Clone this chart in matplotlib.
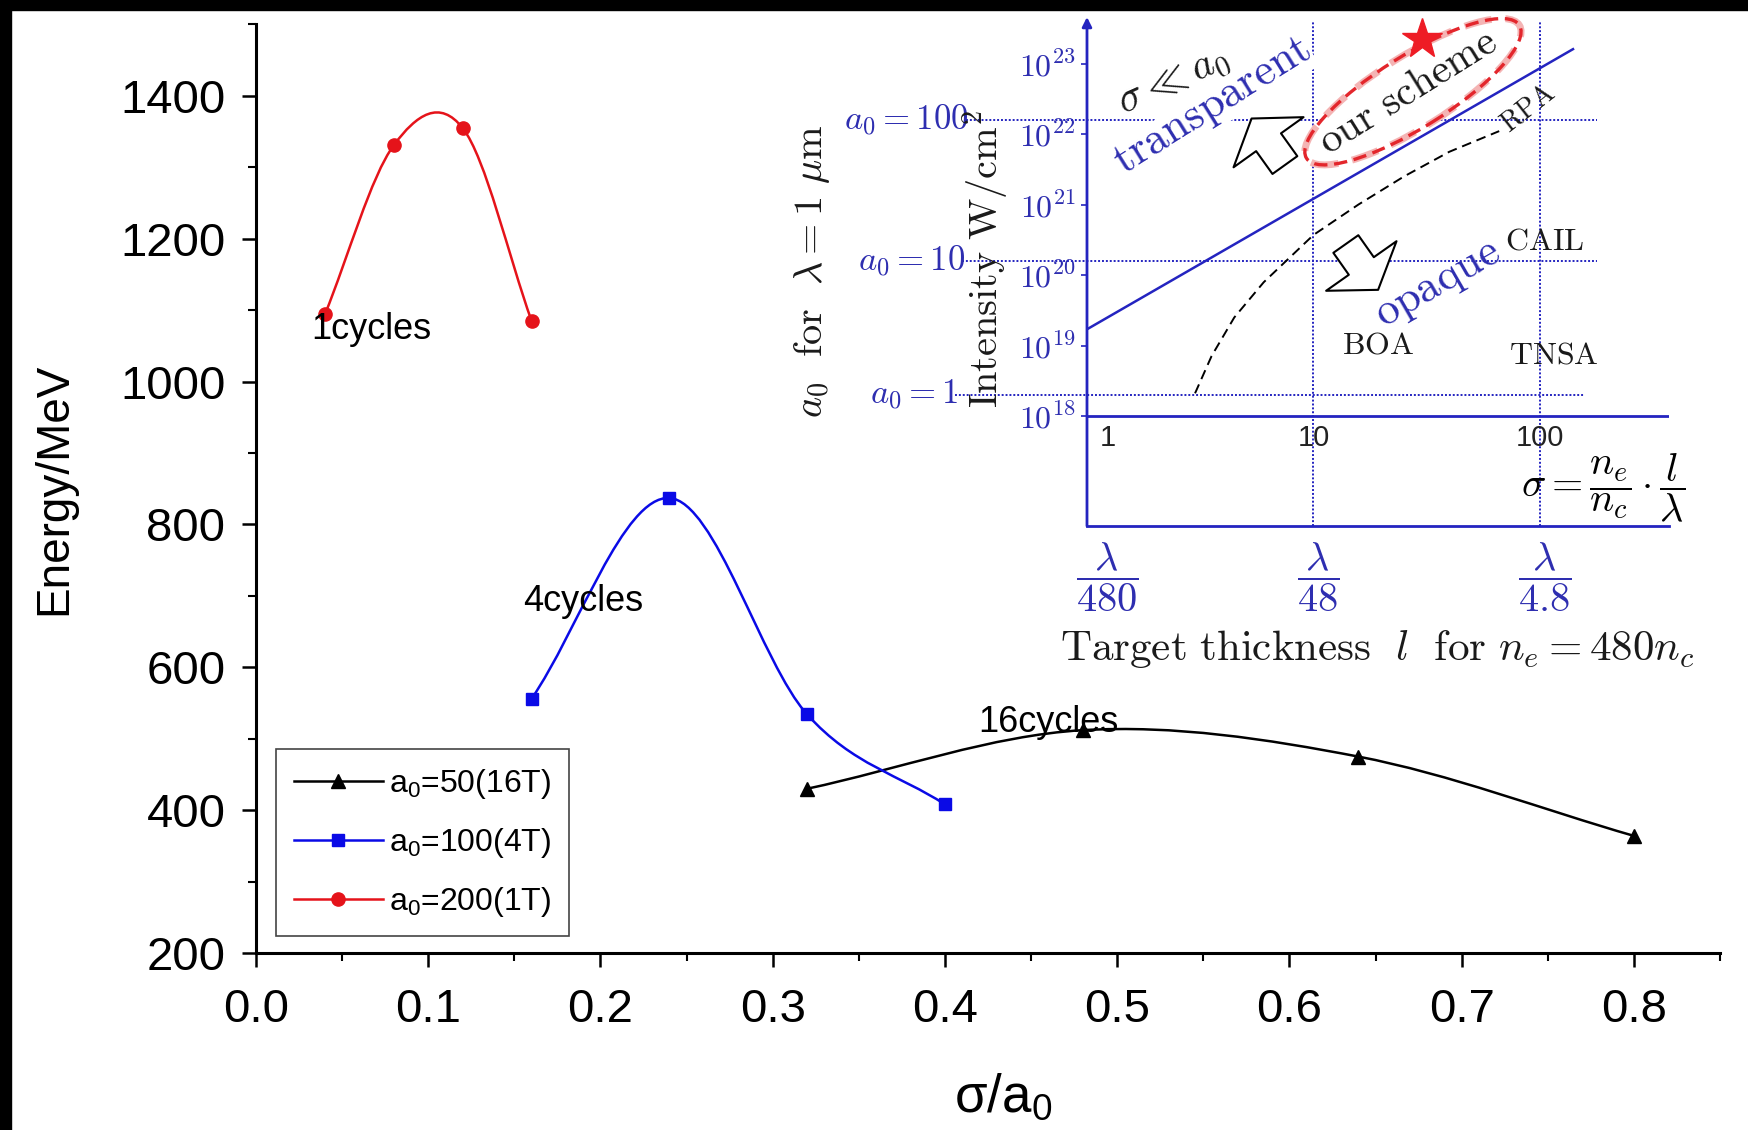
import numpy as np
import matplotlib
matplotlib.use('Agg')
import matplotlib.pyplot as plt
from matplotlib.path import Path
from matplotlib.patches import PathPatch, Ellipse, Rectangle
from matplotlib.lines import Line2D
from matplotlib.ticker import MultipleLocator, NullLocator, FormatStrFormatter
from matplotlib.transforms import ScaledTranslation

plt.rcParams['font.family'] = ['Liberation Sans', 'DejaVu Sans']
plt.rcParams['mathtext.fontset'] = 'custom'
plt.rcParams['mathtext.rm'] = 'Liberation Sans'
plt.rcParams['mathtext.it'] = 'Liberation Sans:italic'
plt.rcParams['mathtext.bf'] = 'Liberation Sans:bold'

# ---- main chart data ----
sigma_16T = [0.32, 0.48, 0.64, 0.80]
energy_16T = [430, 512, 475, 364]
sigma_4T = [0.16, 0.24, 0.32, 0.40]
energy_4T = [556, 837, 534, 408]
sigma_1T = [0.04, 0.08, 0.12, 0.16]
energy_1T = [1094, 1331, 1355, 1085]
series_labels = ['a$_0$=50(16T)', 'a$_0$=100(4T)', 'a$_0$=200(1T)']

cycle_text = ['1cycles', '4cycles', '16cycles']
cycle_x = [0.067, 0.19, 0.46]
cycle_y = [1073, 692, 523]

# ---- inset diagram data ----
decades = [1e18, 1e19, 1e20, 1e21, 1e22, 1e23]
decade_labels = [r'$10^{18}$', r'$10^{19}$', r'$10^{20}$',
                 r'$10^{21}$', r'$10^{22}$', r'$10^{23}$']
a0_levels = [2.0e18, 1.6e20, 1.6e22]
a0_labels = [r'$a_0 = 1$', r'$a_0 = 10$', r'$a_0 = 100$']
a0_label_x = [0.27, 0.29, 0.30]
a0_line_end = [158, 178, 178]
boundary_sigma = [1, 140]
boundary_I = [1.7e19, 1.6e23]
rpa_sigma = [3.0, 3.55, 4.47, 6.03, 10.0, 15.8, 25.1, 39.8, 66.1]
rpa_I = [2.1e18, 7.1e18, 2.5e19, 7.9e19, 3.7e20, 1.0e21, 2.5e21, 5.6e21, 1.1e22]
sigma_ticks = [1, 10, 100]
sigma_tick_labels = ['1', '10', '100']
thickness_labels = [r'$\dfrac{\lambda}{480}$', r'$\dfrac{\lambda}{48}$', r'$\dfrac{\lambda}{4.8}$']
star_sigma, star_I = 30.3, 2.24e23

blue_main = '#0a0ae6'
red_main = '#e5131a'
ink_blue = '#2e2eb0'
line_blue = '#2424c0'
ink = '#1a1a1a'


def spline_path(x, y):
    # smooth curve through the points (cardinal spline as bezier segments)
    x = np.asarray(x, float)
    y = np.asarray(y, float)
    mx, my = np.gradient(x), np.gradient(y)
    verts = [(x[0], y[0])]
    codes = [Path.MOVETO]
    for i in range(len(x) - 1):
        verts += [(x[i] + mx[i] / 3, y[i] + my[i] / 3),
                  (x[i + 1] - mx[i + 1] / 3, y[i + 1] - my[i + 1] / 3),
                  (x[i + 1], y[i + 1])]
        codes += [Path.CURVE4] * 3
    return Path(verts, codes)


fig = plt.figure(figsize=(17.48, 11.30), dpi=100)
ax = fig.add_axes([0.14645, 0.15664, 0.83753, 0.82168])

series = [(sigma_16T, energy_16T, 'black', '^', 10),
          (sigma_4T, energy_4T, blue_main, 's', 8.5),
          (sigma_1T, energy_1T, red_main, 'o', 9.5)]
handles = []
for (x, y, c, m, ms), lab in zip(series, series_labels):
    ax.add_patch(PathPatch(spline_path(x, y), fill=False, edgecolor=c, lw=1.8, zorder=2))
    ax.plot(x, y, ls='none', marker=m, ms=ms, color=c, zorder=3)
    handles.append(Line2D([], [], color=c, lw=1.8, marker=m, ms=ms, label=lab))

for s, x, y in zip(cycle_text, cycle_x, cycle_y):
    ax.text(x, y, s, fontsize=26, ha='center', va='center', zorder=4)

ax.set_xlim(0, 0.85)
ax.set_ylim(200, 1500)
for side in ['top', 'right']:
    ax.spines[side].set_visible(False)
for side in ['left', 'bottom']:
    ax.spines[side].set_linewidth(2.2)
ax.xaxis.set_major_locator(MultipleLocator(0.1))
ax.xaxis.set_minor_locator(MultipleLocator(0.05))
ax.xaxis.set_major_formatter(FormatStrFormatter('%.1f'))
ax.yaxis.set_major_locator(MultipleLocator(200))
ax.yaxis.set_minor_locator(MultipleLocator(100))
ax.tick_params(which='major', direction='out', length=10, width=1.8, labelsize=34)
ax.tick_params(which='minor', direction='out', length=6, width=1.5)
ax.tick_params(axis='x', which='major', pad=15)
ax.tick_params(axis='y', which='major', pad=12)

ax.set_ylabel('Energy/MeV', fontsize=33)
ax.yaxis.set_label_coords(-0.123, 0.5)
ax.set_xlabel('σ/a$_0$', fontsize=38, va='top')
ax.xaxis.set_label_coords(0.51, -0.128)

leg = ax.legend(handles=handles, loc='lower left', bbox_to_anchor=(0.0137, 0.018),
                borderaxespad=0, fontsize=23, handlelength=2.8, handletextpad=0.2,
                labelspacing=0.78, borderpad=0.55, fancybox=False,
                edgecolor='#444444', framealpha=1)
leg.get_frame().set_linewidth(1.2)

# ---- inset: transparency regimes diagram ----
ax2 = fig.add_axes([0.62185, 0.53451, 0.33295, 0.45044], facecolor='none')
ax2.set_xscale('log')
ax2.set_yscale('log')
for side in ['top', 'right', 'left']:
    ax2.spines[side].set_visible(False)
ax2.spines['bottom'].set_color(line_blue)
ax2.spines['bottom'].set_linewidth(2)
ax2.set_xticks([])
ax2.xaxis.set_minor_locator(NullLocator())
ax2.set_yticks(decades)
ax2.set_yticklabels(decade_labels, math_fontfamily='cm', color=ink_blue, fontsize=23)
ax2.yaxis.set_minor_locator(NullLocator())
ax2.tick_params(axis='y', length=4, width=1.2, color=line_blue, pad=4)

ymin, ymax = 10 ** 16.44, 10 ** 23.66
ax2.annotate('', xy=(1, ymax), xytext=(1, ymin),
             arrowprops=dict(arrowstyle='-|>', color=line_blue, lw=2,
                             mutation_scale=14, shrinkA=0, shrinkB=0))
ax2.axhline(1e18, color=line_blue, lw=2)
ax2.vlines(sigma_ticks[1:], ymin, 10 ** 23.6, colors=line_blue,
           linestyles=(0, (1, 1)), lw=1.4)
for lvl, lx, end, lab in zip(a0_levels, a0_label_x, a0_line_end, a0_labels):
    ax2.hlines(lvl, lx * 0.97, end, colors=line_blue, linestyles=(0, (1, 1)),
               lw=1.4, clip_on=False)
    ax2.text(lx, lvl, lab, ha='right', va='center', color=ink_blue,
             fontsize=25, math_fontfamily='cm')

ax2.plot(boundary_sigma, boundary_I, color=line_blue, lw=1.8)
ax2.plot(rpa_sigma, rpa_I, color='black', lw=1.4, ls=(0, (5, 3)))

for s, lab in zip(sigma_ticks, sigma_tick_labels):
    xs = s * 1.23 if s == 1 else s
    ax2.text(xs, 10 ** 17.69, lab, ha='center', va='center', fontsize=21,
             color='#222222')
for s, lab in zip(sigma_ticks, thickness_labels):
    ax2.text(s * 1.23 if s == 1 else s * 1.05, 10 ** 15.71, lab, ha='center',
             va='center', fontsize=29, color=ink_blue, math_fontfamily='cm')

ax2.text(10 ** 2.28, 10 ** 16.98, r'$\sigma = \dfrac{n_e}{n_c}\cdot\dfrac{l}{\lambda}$',
         ha='center', va='center', fontsize=29, math_fontfamily='cm')
ax2.text(10 ** 1.28, 10 ** 14.70,
         r'$\mathrm{Target\ thickness}\ \ l\ \ \mathrm{for}\ n_e = 480n_c$',
         ha='center', va='center', fontsize=31, color=ink, math_fontfamily='cm')
ax2.text(10 ** -1.214, 10 ** 20.05,
         r'$a_0\ \ \mathrm{for}\ \ \lambda = 1\ \mu\mathrm{m}$',
         rotation=90, ha='center', va='center', fontsize=29, color=ink,
         math_fontfamily='cm')
ax2.text(10 ** -0.45, 10 ** 20.22, r'$\mathrm{Intensity\ W/cm^2}$',
         rotation=90, ha='center', va='center', fontsize=29, color=ink,
         math_fontfamily='cm')

ax2.text(10 ** 0.38, 10 ** 22.74, r'$\sigma \ll a_0$', rotation=24,
         ha='center', va='center', fontsize=30, color=ink, math_fontfamily='cm')
ax2.text(10 ** 0.56, 10 ** 22.38, r'$\mathrm{transparent}$', rotation=32,
         ha='center', va='center', fontsize=32, color=ink_blue, math_fontfamily='cm',
         bbox=dict(facecolor='white', edgecolor='none', pad=0))
ax2.text(10 ** 1.55, 10 ** 19.86, r'$\mathrm{opaque}$', rotation=30,
         ha='center', va='center', fontsize=32, color=ink_blue, math_fontfamily='cm')
ax2.text(10 ** 1.95, 10 ** 22.36, r'$\mathrm{RPA}$', rotation=38,
         ha='center', va='center', fontsize=20, color=ink, math_fontfamily='cm')
for s, lx, ly in [('CAIL', 2.02, 20.47), ('BOA', 1.285, 19.0), ('TNSA', 2.06, 18.86)]:
    ax2.text(10 ** lx, 10 ** ly, r'$\mathrm{%s}$' % s, ha='center', va='center',
             fontsize=23, color=ink, math_fontfamily='cm')

# hollow arrows
arrow_kw = dict(arrowstyle='simple,head_length=1.05,head_width=3.1,tail_width=1.1',
                fc='white', ec='black', lw=1.5, mutation_scale=20, shrinkA=0, shrinkB=0)
ax2.annotate('', xy=(5.33, 10 ** 22.22), xytext=(7.48, 10 ** 21.56), arrowprops=arrow_kw)
ax2.annotate('', xy=(19.3, 10 ** 19.79), xytext=(13.9, 10 ** 20.44), arrowprops=arrow_kw)

# "our scheme" highlight
ell_tr = fig.dpi_scale_trans + ScaledTranslation(27.5, 10 ** 22.6, ax2.transData)
ax2.add_patch(Ellipse((0, 0), 2.51, 0.72, angle=32, transform=ell_tr,
                      facecolor='white', edgecolor='#f4b4b4', lw=5,
                      ls=(0, (4, 2)), clip_on=False, zorder=3))
ax2.add_patch(Ellipse((0, 0), 2.51, 0.72, angle=32, transform=ell_tr,
                      facecolor='none', edgecolor='#e3262c', lw=2.4,
                      ls=(0, (4, 2)), clip_on=False, zorder=3.5))
ax2.text(10 ** 1.42, 10 ** 22.6, r'$\mathrm{our\ scheme}$', rotation=32,
         ha='center', va='center', fontsize=30, color=ink,
         math_fontfamily='cm', zorder=4)
ax2.plot([star_sigma], [star_I], marker='*', ms=30, color='#ee1c25', ls='none',
         clip_on=False, zorder=6)

ax2.set_xlim(1, 10 ** 2.57)
ax2.set_ylim(ymin, ymax)

# dark frame strips along the top and left edges of the original picture
fig.add_artist(Rectangle((0, 0), 11 / 1748, 1, transform=fig.transFigure,
                         color='black', zorder=10))
fig.add_artist(Rectangle((0, 1 - 10 / 1130), 1, 10 / 1130, transform=fig.transFigure,
                         color='black', zorder=10))

fig.savefig('out.png', dpi=100)
